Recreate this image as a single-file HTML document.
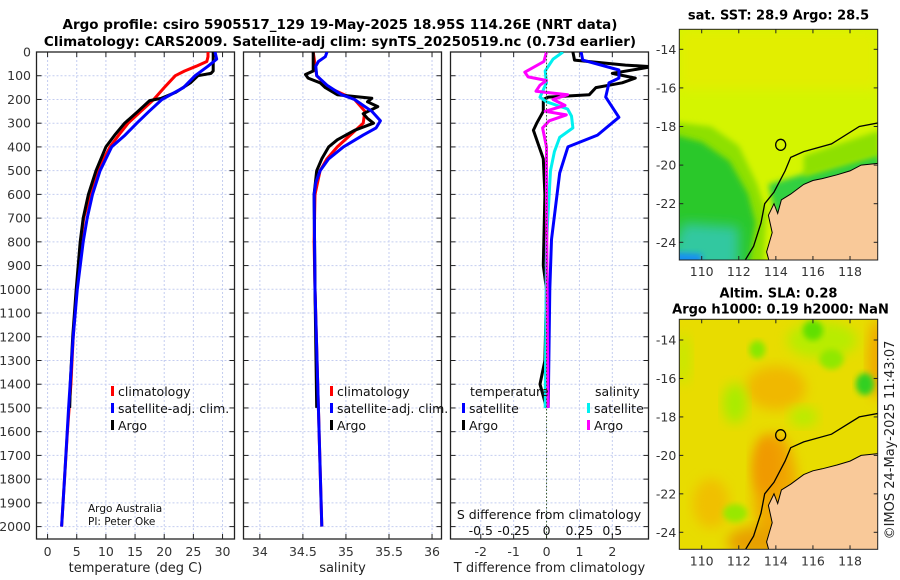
<!DOCTYPE html>
<html><head><meta charset="utf-8">
<style>
body{margin:0;background:#fff;}
svg{display:block;font-family:"DejaVu Sans","Liberation Sans",sans-serif;}
</style></head>
<body>
<svg id="fig" width="900" height="580" viewBox="0 0 900 580">
<defs>
<filter id="blur6" x="-20%" y="-20%" width="140%" height="140%"><feGaussianBlur stdDeviation="6"/></filter>
<filter id="blur3" x="-20%" y="-20%" width="140%" height="140%"><feGaussianBlur stdDeviation="3"/></filter>
<clipPath id="clipTop"><rect x="679" y="29" width="199" height="231"/></clipPath>
<clipPath id="clipBot"><rect x="679" y="319" width="199" height="230"/></clipPath>
<clipPath id="clipP1"><rect x="36.5" y="52" width="198" height="487"/></clipPath>
<clipPath id="clipP2"><rect x="243.5" y="52" width="198" height="487"/></clipPath>
<clipPath id="clipP3"><rect x="450.5" y="52" width="198" height="487"/></clipPath>
</defs>
<text x="340" y="29" text-anchor="middle" font-size="13.5" font-weight="bold">Argo profile: csiro 5905517_129 19-May-2025 18.95S 114.26E (NRT data)</text>
<text x="340" y="46" text-anchor="middle" font-size="13.5" font-weight="bold">Climatology: CARS2009. Satellite-adj clim: synTS_20250519.nc (0.73d earlier)</text>
<g id="panels"></g>
<g id="maps"></g>
<text transform="translate(894,440) rotate(-90)" text-anchor="middle" font-size="13" fill="#222">©IMOS 24-May-2025 11:43:07</text>
</svg>
<script>
// ---------- data ----------
const depthTicks=[0,100,200,300,400,500,600,700,800,900,1000,1100,1200,1300,1400,1500,1600,1700,1800,1900,2000];
const tempTicks=[0,5,10,15,20,25,30];
const salTicks=[34,34.5,35,35.5,36];
const tdiffTicks=[-2,-1,0,1,2];
const sdiffTicks=[-0.5,-0.25,0,0.25,0.5];
const sdiffTickLabels=["-0.5","-0.25","0","0.25","0.5"];

const climTdepth=[0,20,40,60,80,100,150,200,250,300,350,400,500,600,700,800,900,1000,1200,1400,1600,1800,2000];
const climT=[27.5,27.5,27.3,25.5,23.5,21.9,20,18.2,16,13.8,12.2,10.7,8.6,7.3,6.2,5.7,5.4,5.0,4.4,4.0,3.4,2.9,2.4];
const satTdepth=[0,30,60,100,150,200,250,300,350,400,500,600,700,800,1000,1200,1500,1800,2000];
const satT=[28.7,29,27.5,25.3,23.3,19.6,17.4,15.3,13.3,11,9,7.7,6.8,6.1,5.1,4.4,3.6,2.9,2.4];
const argoTdepth=[0,80,90,100,130,170,195,205,250,300,350,400,500,600,700,800,1000,1200,1400,1500];
const argoT=[28.4,28.4,28.0,25.8,24.5,22,19.5,17.5,15.5,13.2,11.5,10,8.3,7,6.1,5.6,4.9,4.3,3.9,3.8];

const climSdepth=[0,100,150,200,250,300,350,400,450,500,600,800,1000,1500,2000];
const climS=[34.62,34.66,34.8,35.1,35.22,35.2,35.05,34.9,34.78,34.7,34.64,34.63,34.64,34.68,34.72];
const satSdepth=[0,20,40,60,100,140,180,200,250,290,320,350,400,450,500,550,600,1000,1500,2000];
const satS=[34.78,34.76,34.68,34.65,34.66,34.78,34.95,35.1,35.3,35.4,35.35,35.2,34.97,34.8,34.7,34.65,34.63,34.64,34.68,34.72];
const argoSdepth=[0,80,95,110,130,150,180,195,210,230,260,280,300,330,370,400,450,500,600,1000,1500];
const argoS=[34.62,34.62,34.53,34.56,34.7,34.76,34.9,35.3,35.25,35.37,35.2,35.25,35.32,35.1,34.9,34.8,34.72,34.66,34.63,34.64,34.66];

const dTsatDepth=[0,34,76,110,130,190,275,350,400,510,790,1000,1500];
const dTsat=[1.05,1.1,2.2,2.2,1.9,1.8,2.2,1.55,0.65,0.4,0.15,0.1,0.05];
const dTargoDepth=[0,34,55,62,90,110,130,150,180,190,200,250,300,330,370,450,600,900,1000,1300,1400,1450,1500];
const dTargo=[0.8,0.85,2.4,3.2,2.0,2.7,2.3,1.5,1.3,0.05,-0.1,-0.1,-0.3,-0.4,-0.3,-0.1,-0.05,-0.1,0,-0.05,-0.2,-0.1,0];
const dSsatDepth=[0,30,80,130,190,210,240,270,320,360,420,500,800,1500];
const dSsat=[0.125,0.05,-0.01,0.0,-0.05,0.0,0.16,0.19,0.2,0.1,0.06,0.03,0.0,-0.01];
const dSargoDepth=[0,40,85,105,120,140,165,180,200,225,250,265,290,320,400,600,1500];
const dSargo=[0,-0.02,-0.165,-0.14,0,-0.05,-0.08,0.16,0.05,0.14,-0.01,0.15,0.02,-0.03,0,0,0.01];

// ---------- helpers ----------
const NS="http://www.w3.org/2000/svg";
const top0=52,bot0=539;
function yD(d){return top0+d*0.2373;}
function mk(tag,attrs,parent){const e=document.createElementNS(NS,tag);for(const k in attrs)e.setAttribute(k,attrs[k]);parent.appendChild(e);return e;}
const P=document.getElementById('panels');

function panel(name,x0,x1,dom,xt,xtl,xlabel,clip){
  const g=mk('g',{},P);
  
  
  const sx=v=>x0+(v-dom[0])/(dom[1]-dom[0])*(x1-x0);
  depthTicks.forEach(d=>{
    const l=mk('line',{x1:x0,x2:x1,y1:yD(d),y2:yD(d),stroke:'#c4cdf0','stroke-width':1,'stroke-dasharray':'2,2'},g);
    
    
    mk('line',{x1:x0,x2:x0+5,y1:yD(d),y2:yD(d),stroke:'#222'},g);
    mk('line',{x1:x1-5,x2:x1,y1:yD(d),y2:yD(d),stroke:'#222'},g);
  });
  xt.forEach((v,i)=>{
    const l=mk('line',{x1:sx(v),x2:sx(v),y1:top0,y2:bot0,stroke:'#c4cdf0','stroke-width':1,'stroke-dasharray':'2,2'},g);
    
    
    mk('line',{x1:sx(v),x2:sx(v),y1:bot0-5,y2:bot0,stroke:'#222'},g);
    mk('line',{x1:sx(v),x2:sx(v),y1:top0,y2:top0+5,stroke:'#222'},g);
    const t=mk('text',{x:sx(v),y:556,'text-anchor':'middle','font-size':12.5,fill:'#333'},g);
    t.textContent=xtl[i];
    
    
  });
  mk('rect',{x:x0,y:top0,width:x1-x0,height:bot0-top0,fill:'none',stroke:'#222','stroke-width':1.3},g);
  const xl=mk('text',{x:(x0+x1)/2,y:572,'text-anchor':'middle','font-size':13,fill:'#222'},g);
  xl.textContent=xlabel;
  
  
  const lg=mk('g',{'clip-path':'url(#'+clip+')'},g);
  return {g:lg,sx,outer:g};
}
function line(p,depths,vals,color,name,w){
  const pts=depths.map((d,i)=>p.sx(vals[i]).toFixed(1)+','+yD(d).toFixed(1)).join(' ');
  const e=mk('polyline',{points:pts,fill:'none',stroke:color,'stroke-width':w||3,'stroke-linejoin':'round'},p.g);
  
  
}
function legendItem(g,x,y,color,label,name){
  const r=mk('rect',{x:x,y:y-10,width:3,height:10,fill:color},g);
  
  
  const t=mk('text',{x:x+7,y:y,'font-size':12.5,fill:'#111'},g);
  t.textContent=label;
  
  
}

// y tick labels
depthTicks.forEach(d=>{
  const t=mk('text',{x:31,y:yD(d)+4.5,'text-anchor':'end','font-size':12.5,fill:'#333'},P);
  t.textContent=d;
  
  
});

// panel 1 temperature
const p1=panel('temperature-panel',36.5,234.5,[-1.9,32.05],tempTicks,tempTicks.map(String),'temperature (deg C)','clipP1');
line(p1,climTdepth,climT,'#f00','temp-climatology-line');
line(p1,argoTdepth,argoT,'#000','temp-argo-line');
line(p1,satTdepth,satT,'#00f','temp-satellite-line');
legendItem(p1.outer,111,396,'#f00','climatology','legend-climatology');
legendItem(p1.outer,111,413,'#00f','satellite-adj. clim.','legend-satellite-adj');
legendItem(p1.outer,111,430,'#000','Argo','legend-argo');
const c1=mk('text',{x:88,y:512,'font-size':10.5,fill:'#111'},p1.outer);c1.textContent='Argo Australia';

const c2=mk('text',{x:88,y:525,'font-size':10.5,fill:'#111'},p1.outer);c2.textContent='PI: Peter Oke';


// panel 2 salinity
const p2=panel('salinity-panel',243.5,441.5,[33.81,36.11],salTicks,['34','34.5','35','35.5','36'],'salinity','clipP2');
line(p2,climSdepth,climS,'#f00','sal-climatology-line');
line(p2,argoSdepth,argoS,'#000','sal-argo-line');
line(p2,satSdepth,satS,'#00f','sal-satellite-line');
legendItem(p2.outer,330,396,'#f00','climatology','legend-sal-climatology');
legendItem(p2.outer,330,413,'#00f','satellite-adj. clim.','legend-sal-satellite-adj');
legendItem(p2.outer,330,430,'#000','Argo','legend-sal-argo');

// panel 3 differences
const p3=panel('difference-panel',450.5,648.5,[-2.92,3.1],tdiffTicks,tdiffTicks.map(String),'T difference from climatology','clipP3');
const z=mk('line',{x1:p3.sx(0),x2:p3.sx(0),y1:top0,y2:bot0,stroke:'#3a5a2a','stroke-width':1,'stroke-dasharray':'1.5,2'},p3.outer);

line(p3,dTargoDepth,dTargo,'#000','tdiff-argo-line');
line(p3,dTsatDepth,dTsat,'#00f','tdiff-satellite-line');
line(p3,dSsatDepth,dSsat.map(v=>v*4),'#00f0f0','sdiff-satellite-line');
line(p3,dSargoDepth,dSargo.map(v=>v*4),'#f0f','sdiff-argo-line');
const lt=mk('text',{x:470,y:396,'font-size':12.5,fill:'#111'},p3.outer);lt.textContent='temperature';

const ls=mk('text',{x:595,y:396,'font-size':12.5,fill:'#111'},p3.outer);ls.textContent='salinity';

legendItem(p3.outer,462,413,'#00f','satellite','legend-tdiff-satellite');
legendItem(p3.outer,462,430,'#000','Argo','legend-tdiff-argo');
legendItem(p3.outer,587,413,'#00f0f0','satellite','legend-sdiff-satellite');
legendItem(p3.outer,587,430,'#f0f','Argo','legend-sdiff-argo');
const st=mk('text',{x:549,y:519,'text-anchor':'middle','font-size':12.5,fill:'#111'},p3.outer);st.textContent='S difference from climatology';

sdiffTicks.forEach((v,i)=>{
  const t=mk('text',{x:p3.sx(v*4),y:535,'text-anchor':'middle','font-size':12.5,fill:'#111'},p3.outer);
  t.textContent=sdiffTickLabels[i];
  
  
});

// ---------- maps ----------
const M=document.getElementById('maps');
const lonTicks=[110,112,114,116,118];
const latTicks=[-14,-16,-18,-20,-22,-24];
const landLonLat=[[119.6,-19.9],[118.6,-20.0],[118,-20.3],[117.3,-20.5],[116.5,-20.7],[116,-20.8],[115.5,-21.0],[114.8,-21.5],[114.3,-21.8],[114.1,-22.5],[113.9,-22.0],[113.6,-22.6],[113.8,-23.5],[113.5,-24.5],[113.7,-25.2],[119.6,-25.2]];
const shelfLonLat=[[119.6,-17.8],[118.5,-18.0],[117,-18.9],[115.5,-19.3],[114.8,-19.6],[114.5,-20.3],[113.9,-21.4],[113.4,-22.0],[113.2,-23.0],[112.8,-24.2],[112.3,-25.0]];
const argoPos=[114.26,-18.95];

function map(name,x0,x1,y0,y1,lat14y,lat24y,title1,title2,bg){
  const g=mk('g',{},M);
  
  
  const lx=lon=>701.7+(lon-110)*18.54;
  const ly=lat=>lat14y+(-14-lat)*(lat24y-lat14y)/10;
  const cg=mk('g',{'clip-path':'url(#'+(name==='sst-map'?'clipTop':'clipBot')+')'},g);
  bg(cg,lx,ly,x0,y0,x1,y1);
  const pts=a=>a.map(p=>lx(p[0]).toFixed(1)+','+ly(p[1]).toFixed(1)).join(' ');
  const land=mk('polygon',{points:pts(landLonLat),fill:'#f9c999',stroke:'#000','stroke-width':1},cg);
  
  const sh=mk('polyline',{points:pts(shelfLonLat),fill:'none',stroke:'#000','stroke-width':1.3},cg);
  
  const c=mk('ellipse',{cx:lx(argoPos[0]),cy:ly(argoPos[1]),rx:5,ry:5.5,fill:'none',stroke:'#000','stroke-width':1.3},g);
  
  mk('rect',{x:x0,y:y0,width:x1-x0,height:y1-y0,fill:'none',stroke:'#222','stroke-width':1},g);
  lonTicks.forEach(v=>{
    mk('line',{x1:lx(v),x2:lx(v),y1:y1,y2:y1-4,stroke:'#222'},g);
    mk('line',{x1:lx(v),x2:lx(v),y1:y0,y2:y0+4,stroke:'#222'},g);
    const t=mk('text',{x:lx(v),y:y1+16,'text-anchor':'middle','font-size':12.5,fill:'#333'},g);t.textContent=v;
    
  });
  latTicks.forEach(v=>{
    mk('line',{x1:x0,x2:x0+4,y1:ly(v),y2:ly(v),stroke:'#222'},g);
    mk('line',{x1:x1,x2:x1-4,y1:ly(v),y2:ly(v),stroke:'#222'},g);
    const t=mk('text',{x:x0-3,y:ly(v)+4.5,'text-anchor':'end','font-size':12.5,fill:'#333'},g);t.textContent=v;
    
  });
  const t1=mk('text',{x:(x0+x1)/2,y:title2?y0-22:y0-10,'text-anchor':'middle','font-size':13,'font-weight':'bold'},g);t1.textContent=title1;
  
  if(title2){const t2=mk('text',{x:(x0+x1)/2+2,y:y0-6,'text-anchor':'middle','font-size':13,'font-weight':'bold'},g);t2.textContent=title2;
  }
}
map('sst-map',679.3,877.7,29.3,260,49.3,242.3,'sat. SST: 28.9 Argo: 28.5',null,(g,lx,ly,x0,y0,x1,y1)=>{
  mk('rect',{x:x0,y:y0,width:x1-x0,height:y1-y0,fill:'#d4f500'},g);
  mk('rect',{x:x0,y:y0,width:x1-x0,height:60,fill:'#e2ee00',filter:'url(#blur6)'},g);
  const pg=(a,f,fl)=>mk('polygon',{points:a.map(p=>lx(p[0])+','+ly(p[1])).join(' '),fill:f,filter:fl},g);
  pg([[108,-17.7],[110.5,-18],[112,-19],[113,-21],[113.5,-22.5],[113.3,-25.5],[108,-25.5]],'#8ee000','url(#blur3)');
  pg([[108,-18.3],[110,-18.8],[111.5,-19.8],[112.5,-21.5],[112.9,-23],[112.5,-25.5],[108,-25.5]],'#2cc82a','url(#blur3)');
  pg([[109,-23],[112,-23.2],[112,-25.5],[108,-25.5]],'#30c8a0','url(#blur6)');
  pg([[113.6,-21],[119.6,-19.3],[119.6,-20.2],[114,-22.8]],'#30d040','url(#blur3)');
  pg([[115.5,-19.5],[119.6,-18.2],[119.6,-19.5],[115.5,-20.6]],'#8ee000','url(#blur3)');
  pg([[108,-24.5],[110,-24.6],[110,-25.5],[108,-25.5]],'#1890f0','url(#blur3)');
});
map('sla-map',679.3,877.7,319.3,549.3,340,532.3,'Altim. SLA: 0.28','Argo h1000: 0.19 h2000: NaN',(g,lx,ly,x0,y0,x1,y1)=>{
  mk('rect',{x:x0,y:y0,width:x1-x0,height:y1-y0,fill:'#e8dc00'},g);
  const el=(lon,lat,rx,ry,f,b)=>mk('ellipse',{cx:lx(lon),cy:ly(lat),rx:rx,ry:ry,fill:f,filter:'url(#blur'+(b||6)+')'},g);
  el(114,-22,22,60,'#f0a800');el(113.5,-20.5,14,30,'#f09a00');el(113,-24.5,30,15,'#e8a000');
  el(114,-16.5,30,22,'#f0b800');el(119.5,-15,10,40,'#f0a800');el(110.5,-22.5,18,25,'#f0c000');
  el(116.5,-14,35,18,'#b8ec00');el(116,-13.5,10,10,'#60e000',3);el(113,-14.5,8,9,'#88e800',3);
  el(117,-15,12,10,'#90e800',3);el(118.8,-16.3,9,11,'#30d020',3);el(111.8,-17.3,12,20,'#a8ec00');
  el(115.5,-18,14,10,'#b8ec00');el(111.8,-23,12,9,'#98e800',3);el(109,-15,8,25,'#c8e800');
});
</script>
</body></html>
